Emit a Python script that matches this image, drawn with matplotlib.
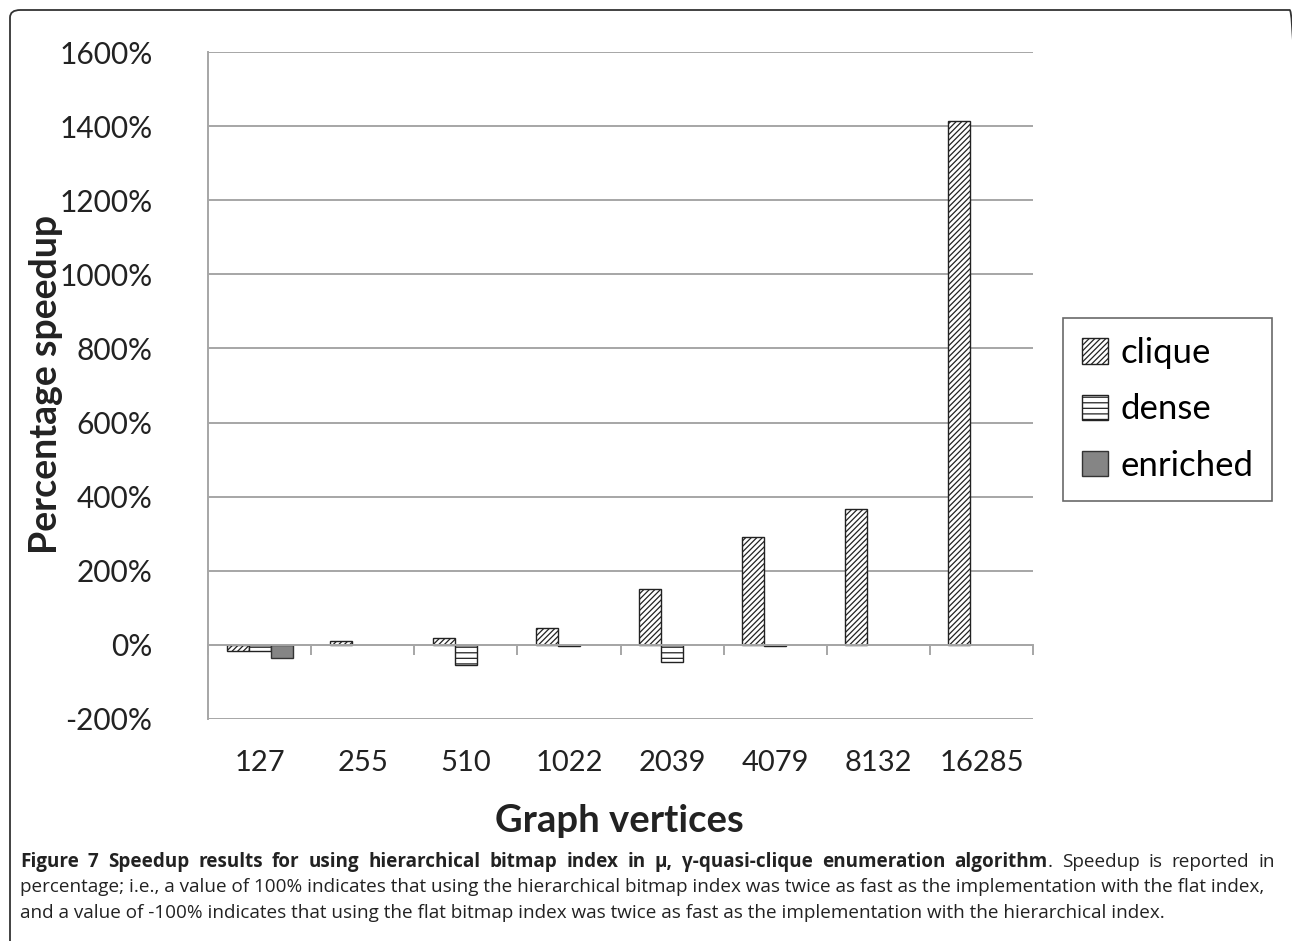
import matplotlib
matplotlib.use("Agg")
import matplotlib.pyplot as plt
import numpy as np
from matplotlib.patches import FancyBboxPatch

plt.rcParams['hatch.linewidth'] = 0.9

nan = float("nan")
categories = ["127", "255", "510", "1022", "2039", "4079", "8132", "16285"]
clique = [-16, 10, 18, 45, 152, 291, 366, 1415]
dense = [-17, nan, -53, -4, -46, -3, nan, nan]
enriched = [-35, nan, nan, nan, nan, nan, nan, nan]
yticks = list(range(-200, 1601, 200))

FONT = "Lato"
TXT = "#222222"

fig = plt.figure(figsize=(12.92, 9.41), dpi=100)
ax = fig.add_axes([208/1292, 1-719/941, (1033-208)/1292, (719-52)/941])

x = np.arange(len(categories))
w = 0.213
b1 = ax.bar(x - w, clique, w, facecolor="white", edgecolor="#222222", hatch="//////", linewidth=1.0, label="clique", zorder=3)
b2 = ax.bar(x, dense, w, facecolor="white", edgecolor="#222222", hatch="---", linewidth=1.0, label="dense", zorder=3)
b3 = ax.bar(x + w, enriched, w, facecolor="#858585", edgecolor="#333333", linewidth=1.0, label="enriched", zorder=3)

ax.set_xlim(-0.5, len(categories) - 0.5)
ax.set_ylim(-200, 1600)
ax.set_yticks(yticks)
ax.set_yticklabels([f"{v}%" for v in yticks], fontsize=21.5, family=FONT, color=TXT)
ax.yaxis.grid(True, color="#a6a6a6", linewidth=1.4, zorder=0)
ax.tick_params(axis="y", length=0, pad=40)

for s in ["top", "right"]:
    ax.spines[s].set_visible(False)
ax.spines["left"].set_color("#a6a6a6")
ax.spines["left"].set_linewidth(1.4)
ax.spines["bottom"].set_position(("data", 0))
ax.spines["bottom"].set_color("#a6a6a6")
ax.spines["bottom"].set_linewidth(1.4)
ax.spines["bottom"].set_zorder(4)

ax.set_xticks(x)
ax.set_xticklabels(categories, fontsize=21, family=FONT, color=TXT)
ax.tick_params(axis="x", which="major", length=0, pad=76)
ax.set_xticks(np.arange(-0.5, len(categories), 1.0), minor=True)
ax.tick_params(axis="x", which="minor", length=7, width=1.4, color="#a6a6a6", direction="out")

fig.text(46/1292, 1-384/941, "Percentage speedup", rotation=90, ha="center", va="center",
         fontsize=27, fontweight="bold", family=FONT, color=TXT)
fig.text(619/1292, 1-821/941, "Graph vertices", ha="center", va="center",
         fontsize=27.5, fontweight="bold", family=FONT, color=TXT)

leg = fig.legend(handles=[b1, b2, b3], loc="upper left",
                 bbox_to_anchor=(1063/1292, 1-318/941), prop={"family": FONT, "size": 25},
                 frameon=True, fancybox=False, edgecolor="#444444", handlelength=0.75,
                 handleheight=0.75, handletextpad=0.35, labelspacing=0.7, borderpad=0.55,
                 borderaxespad=0)
leg.get_frame().set_linewidth(1.2)

# border
fig.patches.append(FancyBboxPatch((10/1292, -0.05), 1290/1292, 1.05 - 10/941,
                                  boxstyle="round,pad=0,rounding_size=0.008",
                                  transform=fig.transFigure, facecolor="none",
                                  edgecolor="#333333", linewidth=1.3))

CFONT = "Open Sans"
cs = 13.6
fig.canvas.draw()
r = fig.canvas.get_renderer()
W = fig.bbox.width

# line 1: bold part + regular part, justified between x=20 and x=1275
bold_words = "Figure 7 Speedup results for using hierarchical bitmap index in \u03bc, \u03b3-quasi-clique enumeration algorithm".split(" ")
reg_words = "Speedup is reported in".split(" ")
items = [(wd, "bold") for wd in bold_words]
items.append((".", "bold_dot"))
items += [(wd, "normal") for wd in reg_words]
widths = []
tobjs = []
for wd, kind in items:
    t = fig.text(0, 1-862/941, wd, fontsize=cs, family=CFONT, color=TXT, va="center",
                 fontweight="bold" if kind == "bold" else "normal")
    tobjs.append(t)
    widths.append(t.get_window_extent(renderer=r).width)
x0, x1 = 20.0, 1275.0
ngaps = len(items) - 2
gap = (x1 - x0 - sum(widths)) / ngaps
cur = x0
for i, (t, wdt) in enumerate(zip(tobjs, widths)):
    t.set_x(cur / W)
    cur += wdt
    if i + 1 < len(items) and items[i + 1][1] != "bold_dot":
        cur += gap

fig.text(20/1292, 1-887/941, "percentage; i.e., a value of 100% indicates that using the hierarchical bitmap index was twice as fast as the implementation with the flat index,",
         fontsize=cs, family=CFONT, color=TXT, va="center")
fig.text(20/1292, 1-913/941, "and a value of -100% indicates that using the flat bitmap index was twice as fast as the implementation with the hierarchical index.",
         fontsize=cs, family=CFONT, color=TXT, va="center")

fig.savefig("out.png", dpi=100)
